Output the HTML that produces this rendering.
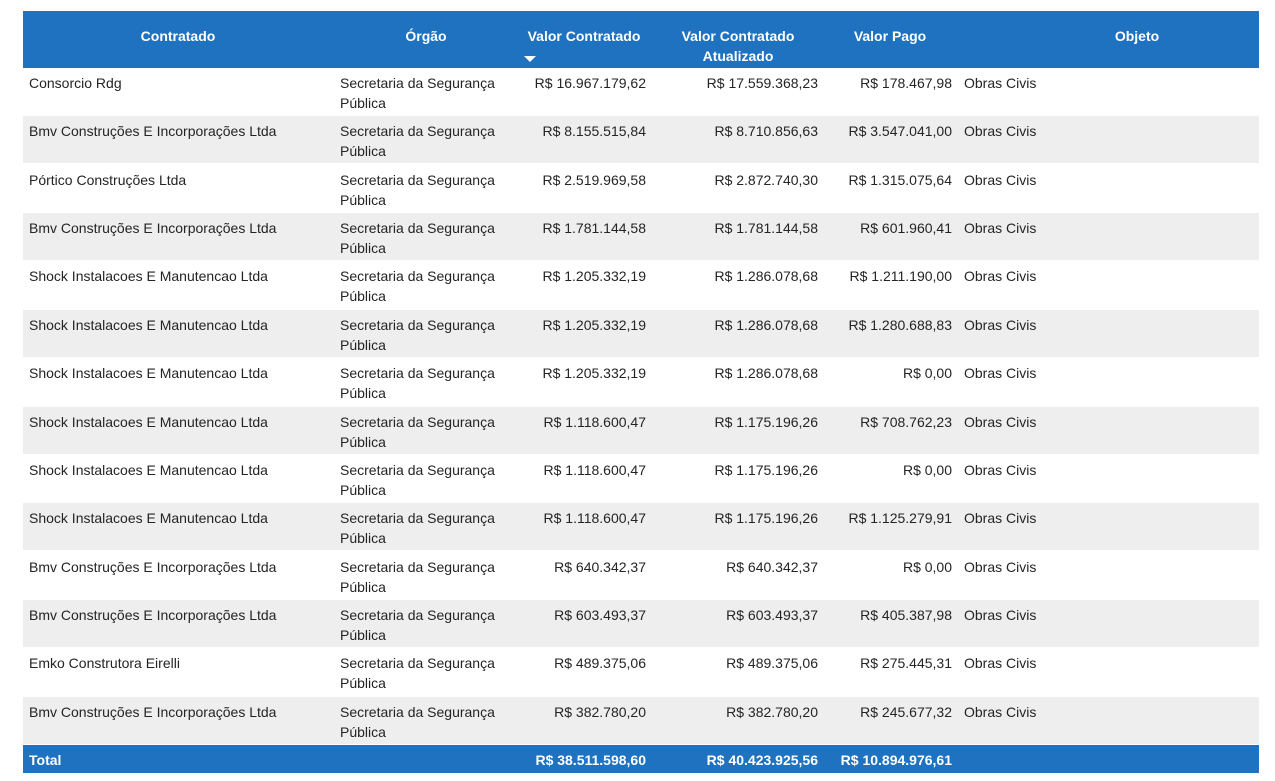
<!DOCTYPE html>
<html><head><meta charset="utf-8"><style>
body{margin:0;width:1275px;height:781px;background:#fff;font-family:"Liberation Sans",sans-serif;font-size:14px;color:#252423;position:relative;overflow:hidden}
.hdr{position:absolute;left:23px;top:11px;width:1236px;height:57px;background:#1F72BF}
.h{position:absolute;color:#fff;font-weight:bold;font-size:14px;text-align:center;line-height:20px;top:15px}
.row{position:absolute;left:23px;width:1236px;height:47px;border-bottom:1px solid #fff}
.c{position:absolute;top:5px;line-height:20px;white-space:nowrap}
.r{text-align:right}
.tot{position:absolute;left:23px;top:745px;width:1236px;height:28px;background:#1F72BF;color:#fff;font-weight:bold}
.tot .c{top:5px}
</style></head><body>
<div class="hdr">
<div class="h" style="left:80px;width:150px">Contratado</div>
<div class="h" style="left:353px;width:100px">Órgão</div>
<div class="h" style="left:491px;width:140px">Valor Contratado</div>
<div style="position:absolute;left:501px;top:45px;width:0;height:0;border-left:6px solid transparent;border-right:6px solid transparent;border-top:6px solid #fff"></div>
<div class="h" style="left:640px;width:150px">Valor Contratado<br>Atualizado</div>
<div class="h" style="left:817px;width:100px">Valor Pago</div>
<div class="h" style="left:1064px;width:100px">Objeto</div>
</div>
<div id="body"></div>
<div class="tot">
<div class="c" style="left:6px">Total</div>
<div class="c r" style="right:613px">R$ 38.511.598,60</div>
<div class="c r" style="right:441px">R$ 40.423.925,56</div>
<div class="c r" style="right:307px">R$ 10.894.976,61</div>
</div>
<script>
const names=["Consorcio Rdg","Bmv Construções E Incorporações Ltda","Pórtico Construções Ltda","Bmv Construções E Incorporações Ltda","Shock Instalacoes E Manutencao Ltda","Shock Instalacoes E Manutencao Ltda","Shock Instalacoes E Manutencao Ltda","Shock Instalacoes E Manutencao Ltda","Shock Instalacoes E Manutencao Ltda","Shock Instalacoes E Manutencao Ltda","Bmv Construções E Incorporações Ltda","Bmv Construções E Incorporações Ltda","Emko Construtora Eirelli","Bmv Construções E Incorporações Ltda"];
const contratado=["R$ 16.967.179,62","R$ 8.155.515,84","R$ 2.519.969,58","R$ 1.781.144,58","R$ 1.205.332,19","R$ 1.205.332,19","R$ 1.205.332,19","R$ 1.118.600,47","R$ 1.118.600,47","R$ 1.118.600,47","R$ 640.342,37","R$ 603.493,37","R$ 489.375,06","R$ 382.780,20"];
const atualizado=["R$ 17.559.368,23","R$ 8.710.856,63","R$ 2.872.740,30","R$ 1.781.144,58","R$ 1.286.078,68","R$ 1.286.078,68","R$ 1.286.078,68","R$ 1.175.196,26","R$ 1.175.196,26","R$ 1.175.196,26","R$ 640.342,37","R$ 603.493,37","R$ 489.375,06","R$ 382.780,20"];
const pago=["R$ 178.467,98","R$ 3.547.041,00","R$ 1.315.075,64","R$ 601.960,41","R$ 1.211.190,00","R$ 1.280.688,83","R$ 0,00","R$ 708.762,23","R$ 0,00","R$ 1.125.279,91","R$ 0,00","R$ 405.387,98","R$ 275.445,31","R$ 245.677,32"];
const body=document.getElementById('body');
function cell(row,txt,style,cls,name){const d=document.createElement('div');d.className='c '+cls;d.setAttribute('style',style);d.innerHTML=txt;


row.appendChild(d);}
names.forEach((n,i)=>{const r=document.createElement('div');r.className='row';


r.style.top=(68+i*48.36)+'px';r.style.background=i%2?'#EEEEEE':'#fff';
cell(r,n,'left:6px','','cell-contratado');
cell(r,'Secretaria da Segurança<br>Pública','left:317px','','cell-orgao');
cell(r,contratado[i],'right:613px','r','cell-valor-contratado');
cell(r,atualizado[i],'right:441px','r','cell-valor-atualizado');
cell(r,pago[i],'right:307px','r','cell-valor-pago');
cell(r,'Obras Civis','left:941px','','cell-objeto');
body.appendChild(r);});
</script>
</body></html>
